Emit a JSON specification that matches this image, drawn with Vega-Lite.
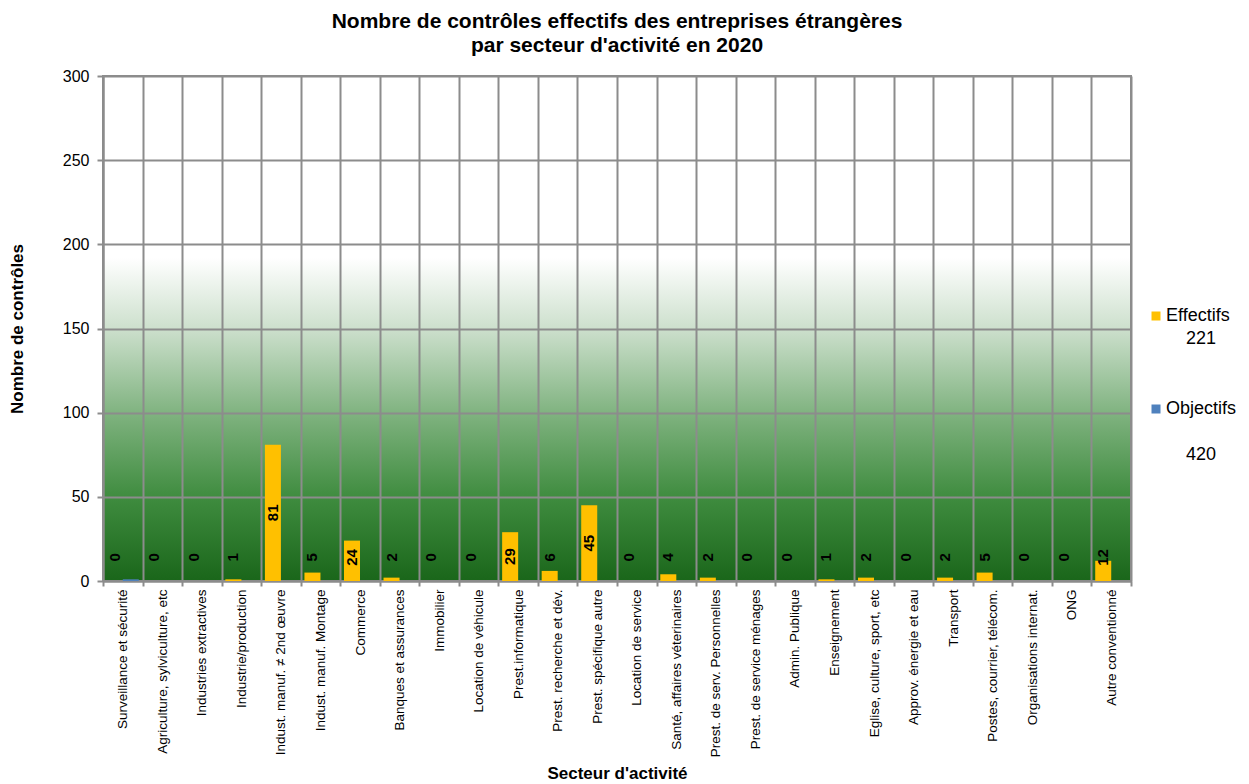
{
  "$schema": "https://vega.github.io/schema/vega-lite/v6.json",
  "width": 1028,
  "height": 505,
  "autosize": {"type": "none"},
  "padding": {"left": 103, "top": 76, "right": 118, "bottom": 203},
  "background": "white",
  "config": {
    "font": "Liberation Sans",
    "view": {
      "stroke": "#8c8c8c",
      "strokeWidth": 2,
      "fill": {
        "gradient": "linear",
        "x1": 0, "y1": 0, "x2": 0, "y2": 1,
        "stops": [
          {"offset": 0, "color": "#ffffff"},
          {"offset": 0.36, "color": "#ffffff"},
          {"offset": 0.5, "color": "#cde0cd"},
          {"offset": 0.667, "color": "#80b380"},
          {"offset": 0.834, "color": "#3f8c3f"},
          {"offset": 1, "color": "#1a661a"}
        ]
      }
    },
    "axis": {
      "gridColor": "#8c8c8c",
      "gridWidth": 2,
      "gridOpacity": 1,
      "domainColor": "#8c8c8c",
      "domainWidth": 2,
      "tickColor": "#8c8c8c",
      "tickWidth": 2,
      "labelColor": "black",
      "titleColor": "black",
      "labelFont": "Liberation Sans",
      "titleFont": "Liberation Sans",
      "titleFontWeight": "bold",
      "titleFontSize": 17
    }
  },
  "title": {
    "text": ["Nombre de contrôles effectifs des entreprises étrangères", "par secteur d'activité en 2020"],
    "font": "Liberation Sans",
    "fontSize": 21,
    "fontWeight": "bold",
    "lineHeight": 24,
    "anchor": "middle",
    "color": "black",
    "offset": 12
  },
  "data": {
    "values": [
      {"secteur": "Surveillance et sécurité", "Effectifs": 0, "Objectifs": 1},
      {"secteur": "Agriculture, sylviculture, etc", "Effectifs": 0, "Objectifs": 0},
      {"secteur": "Industries extractives", "Effectifs": 0, "Objectifs": 0},
      {"secteur": "Industrie/production", "Effectifs": 1, "Objectifs": 0},
      {"secteur": "Indust. manuf. ≠ 2nd œuvre", "Effectifs": 81, "Objectifs": 0},
      {"secteur": "Indust. manuf. Montage", "Effectifs": 5, "Objectifs": 0},
      {"secteur": "Commerce", "Effectifs": 24, "Objectifs": 0},
      {"secteur": "Banques et assurances", "Effectifs": 2, "Objectifs": 0},
      {"secteur": "Immobilier", "Effectifs": 0, "Objectifs": 0},
      {"secteur": "Location de véhicule", "Effectifs": 0, "Objectifs": 0},
      {"secteur": "Prest.informatique", "Effectifs": 29, "Objectifs": 0},
      {"secteur": "Prest. recherche et dév.", "Effectifs": 6, "Objectifs": 0},
      {"secteur": "Prest. spécifique autre", "Effectifs": 45, "Objectifs": 0},
      {"secteur": "Location de service", "Effectifs": 0, "Objectifs": 0},
      {"secteur": "Santé, affaires véterinaires", "Effectifs": 4, "Objectifs": 0},
      {"secteur": "Prest. de serv. Personnelles", "Effectifs": 2, "Objectifs": 0},
      {"secteur": "Prest. de service ménages", "Effectifs": 0, "Objectifs": 0},
      {"secteur": "Admin. Publique", "Effectifs": 0, "Objectifs": 0},
      {"secteur": "Enseignement", "Effectifs": 1, "Objectifs": 0},
      {"secteur": "Eglise, culture, sport, etc", "Effectifs": 2, "Objectifs": 0},
      {"secteur": "Approv. énergie et eau", "Effectifs": 0, "Objectifs": 0},
      {"secteur": "Transport", "Effectifs": 2, "Objectifs": 0},
      {"secteur": "Postes, courrier, télécom.", "Effectifs": 5, "Objectifs": 0},
      {"secteur": "Organisations internat.", "Effectifs": 0, "Objectifs": 0},
      {"secteur": "ONG", "Effectifs": 0, "Objectifs": 0},
      {"secteur": "Autre conventionné", "Effectifs": 12, "Objectifs": 0}
    ]
  },
  "resolve": {"scale": {"y": "independent"}},
  "layer": [
    {
      "transform": [{"fold": ["Effectifs", "Objectifs"], "as": ["serie", "valeur"]}],
      "mark": {"type": "bar"},
      "encoding": {
        "x": {
          "field": "secteur",
          "type": "nominal",
          "sort": null,
          "scale": {"paddingInner": 0, "paddingOuter": 0},
          "axis": {
            "title": "Secteur d'activité",
            "grid": true,
            "tickBand": "extent",
            "labelAngle": -90,
            "labelAlign": "right",
            "labelBaseline": "middle",
            "labelFontSize": 13.5,
            "labelLimit": 400,
            "tickSize": 5,
            "labelPadding": 3,
            "titlePadding": 9
          }
        },
        "xOffset": {
          "field": "serie",
          "type": "nominal",
          "scale": {"domain": ["Effectifs", "Objectifs"], "paddingInner": 0, "paddingOuter": 0.234}
        },
        "y": {
          "field": "valeur",
          "type": "quantitative",
          "scale": {"domain": [0, 300]},
          "axis": {
            "title": "Nombre de contrôles",
            "values": [0, 50, 100, 150, 200, 250, 300],
            "grid": true,
            "labelFontSize": 16,
            "tickSize": 6,
            "labelPadding": 8,
            "titlePadding": 36
          }
        },
        "color": {
          "field": "serie",
          "type": "nominal",
          "scale": {"domain": ["Effectifs", "Objectifs"], "range": ["#FFC000", "#4F81BD"]},
          "legend": {
            "title": null,
            "orient": "none",
            "legendX": 1044,
            "legendY": 231,
            "padding": 0,
            "symbolType": "square",
            "symbolSize": 81,
            "symbolStrokeWidth": 0,
            "labelFontSize": 18,
            "labelColor": "black",
            "labelOffset": 1,
            "rowPadding": 52,
            "labelExpr": "datum.label == 'Effectifs' ? ['Effectifs', '\u200b\u00a0\u00a0\u00a0\u00a0221'] : ['Objectifs', '\u200b\u00a0\u00a0\u00a0\u00a0420']",
            "labelLimit": 300,
            "encode": {"labels": {"update": {"lineHeight": {"signal": "datum.value === 'Objectifs' ? 46 : 23"}}}}
          }
        }
      }
    },
    {
      "transform": [{"filter": "datum.Effectifs < 28"}],
      "mark": {"type": "text", "angle": 270, "fontWeight": "bold", "fontSize": 15, "color": "black", "align": "center", "baseline": "middle"},
      "encoding": {
        "x": {"field": "secteur", "type": "nominal", "sort": null},
        "xOffset": {"datum": "Effectifs", "type": "nominal", "scale": {"domain": ["Effectifs", "Objectifs"]}},
        "y": {"datum": 14, "type": "quantitative", "scale": {"domain": [0, 300]}, "axis": null},
        "text": {"field": "Effectifs", "type": "quantitative"}
      }
    },
    {
      "transform": [{"filter": "datum.Effectifs >= 28"}],
      "mark": {"type": "text", "angle": 270, "fontWeight": "bold", "fontSize": 15, "color": "black", "align": "center", "baseline": "middle"},
      "encoding": {
        "x": {"field": "secteur", "type": "nominal", "sort": null},
        "xOffset": {"datum": "Effectifs", "type": "nominal", "scale": {"domain": ["Effectifs", "Objectifs"]}},
        "y": {"field": "Effectifs", "type": "quantitative", "scale": {"domain": [0, 600]}, "axis": null},
        "text": {"field": "Effectifs", "type": "quantitative"}
      }
    }
  ]
}
